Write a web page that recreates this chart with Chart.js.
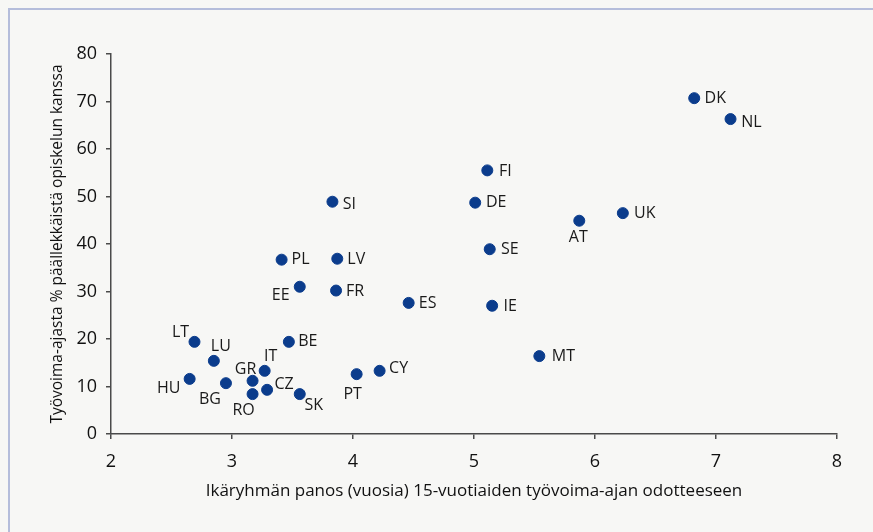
<!DOCTYPE html>
<html>
<head>
<meta charset="utf-8">
<script src="https://cdn.jsdelivr.net/npm/chart.js@4.4.1/dist/chart.umd.min.js"></script>
<style>
  html, body { margin: 0; padding: 0; background: #f7f7f5; }
  #wrap { position: relative; width: 873px; height: 532px; overflow: hidden; }
  #frame { position: absolute; left: 8px; top: 8px; width: 900px; height: 600px;
           border-left: 2px solid #b5bddb; border-top: 2px solid #b5bddb; }
  canvas { position: absolute; left: 0; top: 0; }
</style>
</head>
<body>
<div id="wrap">
  <div id="frame"></div>
  <canvas id="chart" width="873" height="532"></canvas>
</div>
<script>
// Country codes
const countries = ['DK', 'NL', 'FI', 'DE', 'SI', 'AT', 'UK', 'SE', 'PL', 'LV', 'EE', 'FR', 'ES', 'IE',
  'MT', 'LT', 'BE', 'LU', 'IT', 'CY', 'PT', 'HU', 'GR', 'BG', 'CZ', 'RO', 'SK'];

// Contribution of the age group (years) to the expected working life of 15-year-olds
const contributionYears = [6.82, 7.12, 5.11, 5.01, 3.83, 5.87, 6.23, 5.13, 3.41, 3.87, 3.56, 3.86, 4.46, 5.15,
  5.54, 2.69, 3.47, 2.85, 3.27, 4.22, 4.03, 2.65, 3.17, 2.95, 3.29, 3.17, 3.56];

// Share of working life overlapping with studies (%)
const overlapPct = [70.7, 66.3, 55.5, 48.7, 48.9, 44.9, 46.5, 38.9, 36.7, 36.9, 31.0, 30.2, 27.6, 27.0,
  16.4, 19.4, 19.4, 15.4, 13.3, 13.3, 12.6, 11.6, 11.2, 10.7, 9.3, 8.4, 8.4];

const xTicks = [2, 3, 4, 5, 6, 7, 8];
const yTicks = [0, 10, 20, 30, 40, 50, 60, 70, 80];

// label placement relative to each dot (pixels), same order as countries
const labelOffsets = [[21, 0], [21, 3], [18, 1], [21, 0], [17, 3], [-1, 17], [22, 0], [20, 0], [19, 0], [19, 1],
  [-19, 9], [19, 1], [19, 1], [18, 1], [24, 0], [-14, -9], [19, 0], [7, -14], [6, -14], [19, -2],
  [-4, 20], [-21, 10], [-7, -11], [-16, 16], [17, -5], [-9, 16], [14, 11]];

const FONT = '"Open Sans", "Noto Sans", sans-serif';
const AXIS = '#4a4a4a';

const points = countries.map((c, i) => ({ x: contributionYears[i], y: overlapPct[i] }));

const pointLabels = {
  id: 'pointLabels',
  afterDatasetsDraw(chart) {
    const ctx = chart.ctx;
    const meta = chart.getDatasetMeta(0);
    ctx.save();
    ctx.font = '16px ' + FONT;
    ctx.fillStyle = '#1a1a1a';
    ctx.textAlign = 'center';
    ctx.textBaseline = 'middle';
    meta.data.forEach((pt, i) => {
      const off = labelOffsets[i];
      ctx.fillText(countries[i], pt.x + off[0], pt.y + off[1]);
    });
    ctx.restore();
  }
};

const ctx = document.getElementById('chart').getContext('2d');
new Chart(ctx, {
  type: 'scatter',
  data: {
    datasets: [{
      data: points,
      backgroundColor: '#0b3c8c',
      borderColor: '#0b3c8c',
      pointRadius: 5.5,
      pointHoverRadius: 5.5
    }]
  },
  options: {
    responsive: false,
    animation: false,
    layout: { padding: { left: 48, top: 54, right: 36, bottom: 31 } },
    plugins: { legend: { display: false }, tooltip: { enabled: false } },
    scales: {
      x: {
        type: 'linear',
        min: 2, max: 8,
        afterBuildTicks: (s) => { s.ticks = xTicks.map(v => ({ value: v })); },
        afterFit: (s) => { s.height = 67; },
        grid: { display: true, drawOnChartArea: false, drawTicks: true, tickLength: 5, color: AXIS, lineWidth: 1.5 },
        border: { display: true, color: AXIS, width: 1.5 },
        ticks: { color: '#111', font: { family: FONT, size: 18 }, padding: 12 },
        title: {
          display: true,
          text: 'Ikäryhmän panos (vuosia) 15-vuotiaiden työvoima-ajan odotteeseen',
          color: '#111', font: { family: FONT, size: 17 }, padding: 0
        }
      },
      y: {
        type: 'linear',
        min: 0, max: 80,
        afterBuildTicks: (s) => { s.ticks = yTicks.map(v => ({ value: v })); },
        afterFit: (s) => { s.width = 63; },
        grid: { display: true, drawOnChartArea: false, drawTicks: true, tickLength: 5, color: AXIS, lineWidth: 1.5 },
        border: { display: true, color: AXIS, width: 1.5 },
        ticks: { color: '#111', font: { family: FONT, size: 18 }, padding: 9 },
        title: {
          display: true,
          text: 'Työvoima-ajasta % päällekkäistä opiskelun kanssa',
          color: '#111', font: { family: FONT, size: 15.5 }, padding: 0
        }
      }
    }
  },
  plugins: [pointLabels]
});
</script>
</body>
</html>
